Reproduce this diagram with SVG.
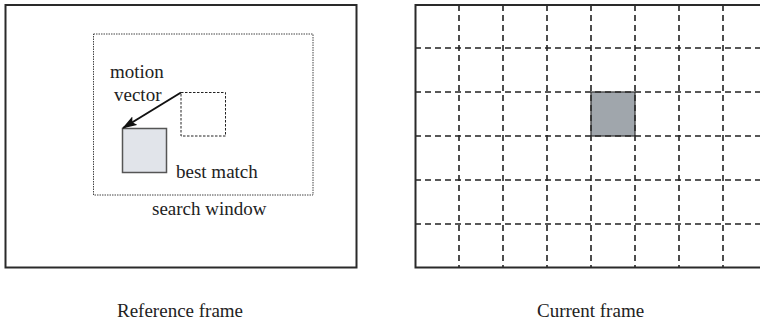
<svg xmlns="http://www.w3.org/2000/svg" width="760" height="323" viewBox="0 0 760 323">
  <style>
    .frame { fill: none; stroke: #2a2a2a; stroke-width: 2; }
    .grid { stroke: #222; stroke-width: 1.6; stroke-dasharray: 6 4; fill: none; }
    .label { font-family: "Liberation Serif", "Times New Roman", serif; font-size: 19px; fill: #222; }
  </style>
  <defs>
    <marker id="arrowhead" markerWidth="15" markerHeight="10" refX="14" refY="5" orient="auto" markerUnits="userSpaceOnUse" viewBox="0 0 15 10">
      <path d="M0,0 L15,5 L0,10 L3,5 Z" fill="#111"/>
    </marker>
  </defs>
  <rect width="760" height="323" fill="#fff"/>

  <!-- Reference frame -->
  <g id="reference-frame">
    <rect class="frame" x="5.5" y="5" width="351" height="262.5"/>
    <text class="label" x="117" y="317">Reference frame</text>
  </g>

  <g id="search-window">
    <rect x="93.5" y="34" width="219.5" height="161" fill="none" stroke="#444" stroke-width="1" stroke-dasharray="1.5 1"/>
    <text class="label" x="152" y="215">search window</text>
  </g>

  <g id="original-block">
    <rect x="181" y="92.5" width="44.5" height="43.5" fill="none" stroke="#222" stroke-width="1" stroke-dasharray="2.5 1.5"/>
  </g>

  <g id="best-match">
    <rect x="122.5" y="128.5" width="44" height="44" fill="#e1e4ea" stroke="#555" stroke-width="1.5"/>
    <text class="label" x="176" y="178">best match</text>
  </g>

  <g id="motion-vector-label">
    <text class="label" x="110" y="78">motion</text>
    <text class="label" x="114" y="101">vector</text>
  </g>

  <!-- Current frame with block grid -->
  <g id="current-frame">
    <rect x="591" y="92" width="44" height="44" fill="#a0a6ac"/>
    <g class="grid">
      <line x1="459" y1="5" x2="459" y2="267.5"/>
      <line x1="503" y1="5" x2="503" y2="267.5"/>
      <line x1="547" y1="5" x2="547" y2="267.5"/>
      <line x1="591" y1="5" x2="591" y2="267.5"/>
      <line x1="635" y1="5" x2="635" y2="267.5"/>
      <line x1="679" y1="5" x2="679" y2="267.5"/>
      <line x1="723" y1="5" x2="723" y2="267.5"/>
      <line x1="415" y1="48" x2="762" y2="48"/>
      <line x1="415" y1="92" x2="762" y2="92"/>
      <line x1="415" y1="136" x2="762" y2="136"/>
      <line x1="415" y1="180" x2="762" y2="180"/>
      <line x1="415" y1="224" x2="762" y2="224"/>
    </g>
    <rect x="591" y="92" width="44" height="44" fill="none" stroke="#333" stroke-width="1.2"/>
    <path class="frame" d="M765,5 H415.5 V267.5 H765"/>
    <text class="label" x="537" y="317">Current frame</text>
  </g>

  <!-- Connectors -->
  <g id="connectors">
    <line x1="181" y1="92.5" x2="123" y2="128" stroke="#111" stroke-width="2" marker-end="url(#arrowhead)"/>
  </g>
</svg>
